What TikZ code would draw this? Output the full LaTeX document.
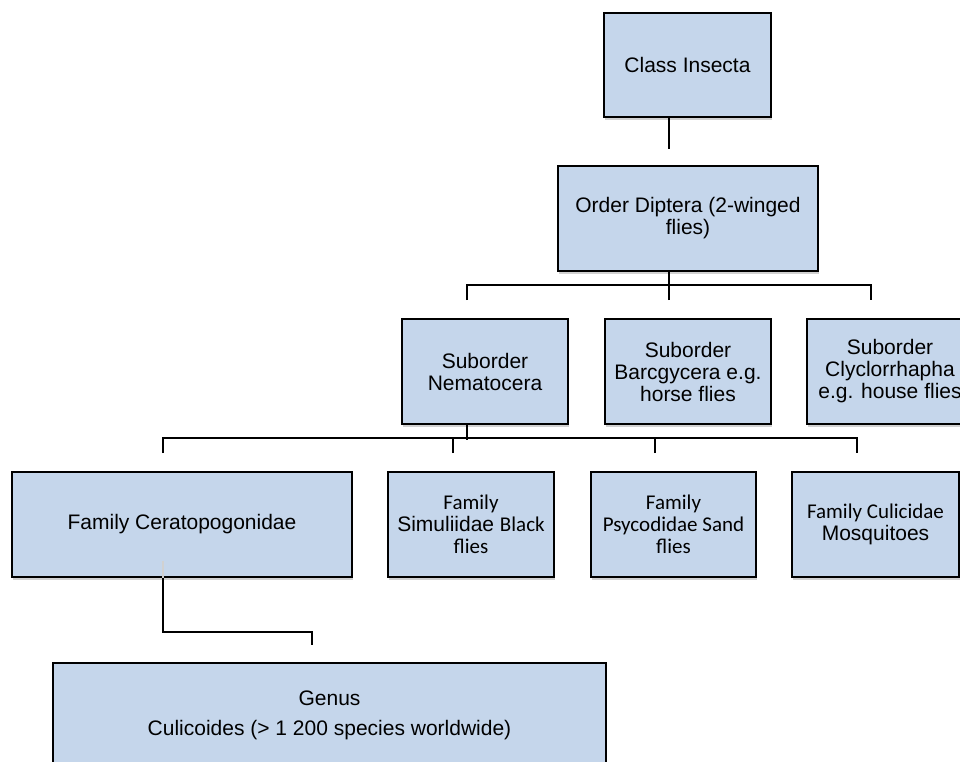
\documentclass[tikz,border=0pt]{standalone}
\usepackage{fontspec}
\setmainfont{Liberation Sans}
\newfontfamily\carl{Carlito}
\usetikzlibrary{calc,shadows}
\definecolor{boxblue}{RGB}{197,214,235}
\tikzset{
  taxbox/.style={draw=black, line width=1.6pt, fill=boxblue, align=center,
    inner sep=0pt, minimum height=105pt,
    font=\fontsize{21}{22}\selectfont,
    drop shadow={shadow xshift=1pt, shadow yshift=-3pt, fill=black, opacity=0.18}},
  link/.style={draw=black, line width=1.6pt},
  ghost/.style={draw=black!18, line width=1.2pt}
}
\begin{document}
\begin{tikzpicture}[x=1pt, y=-1pt]
\clip (0,0) rectangle (960,762);
\fill[white] (0,0) rectangle (960,762);

% nodes
\node[taxbox, minimum width=167pt, minimum height=104pt] (ins) at (687.5,65) {Class Insecta};
\node[taxbox, minimum width=260pt] (dip) at (688,218.5) {Order Diptera (2-winged\\flies)};
\node[taxbox, minimum width=166pt] (nem) at (485,371.5) {Suborder\\Nematocera};
\node[taxbox, minimum width=166pt] (bar) at (688,371.5) {Suborder\\Barcgycera e.g.\\horse flies};
\node[taxbox, minimum width=166pt] (cly) at (890,371.5) {Suborder\\Clyclorrhapha\\e.g. house flies};
\node[taxbox, minimum width=340pt] (cer) at (182,524.5) {Family Ceratopogonidae};
\node[taxbox, minimum width=166pt] (sim) at (471,524.5) {{\carl Family}\\Simuliidae {\carl Black}\\{\carl flies}};
\node[taxbox, minimum width=165pt] (psy) at (673.5,524.5) {\carl Family\\\carl Psycodidae Sand\\\carl flies};
\node[taxbox, minimum width=167pt] (cul) at (875.5,524.5) {{\carl Family Culicidae}\\Mosquitoes};
\node[taxbox, minimum width=553pt, font=\fontsize{21}{30}\selectfont] (gen) at (329.5,715.5) {Genus\\Culicoides (> 1 200 species worldwide)};

% Class -> Order
\coordinate (c1) at ($(ins.south)+(-18.5,31)$);
\draw[link] ($(ins.south)+(-18.5,0)$) -- (c1);

% Order -> suborders
\coordinate (bus1) at ($(dip.south)+(-19,15)$);
\draw[link] ($(dip.south)+(-19,0)$) -- (bus1);
\coordinate (d1) at ($(nem.north)+(-18,-18)$);
\coordinate (d2) at ($(bar.north)+(-19,-18)$);
\coordinate (d3) at ($(cly.north)+(-19,-18)$);
\draw[link] (d1) -- ++(0,-15) -| (d3);
\draw[link] (d2) -- ++(0,-15);

% Nematocera -> families
\coordinate (bus2) at ($(nem.south)+(-18,15)$);
\draw[link] ($(nem.south)+(-18,0)$) -- (bus2);
\coordinate (f1) at ($(cer.north)+(-19,-18)$);
\coordinate (f2) at ($(sim.north)+(-18,-18)$);
\coordinate (f3) at ($(psy.north)+(-18.5,-18)$);
\coordinate (f4) at ($(cul.north)+(-18.5,-18)$);
\draw[link] (f1) -- ++(0,-15) -| (f4);
\draw[link] (f2) -- ++(0,-15);
\draw[link] (f3) -- ++(0,-15);

% Ceratopogonidae -> Genus
\draw[ghost] ($(cer.south)+(-19,-17)$) -- ($(cer.south)+(-19,0)$);
\coordinate (g1) at ($(gen.north)+(-17.5,-17)$);
\draw[link] ($(cer.south)+(-19,0)$) -- ++(0,54) -| (g1);
\end{tikzpicture}
\end{document}
